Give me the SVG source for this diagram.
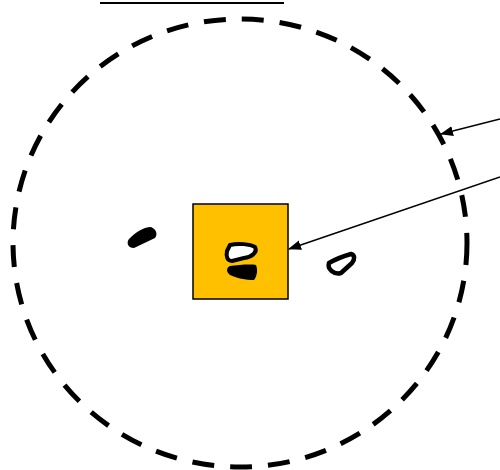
<svg xmlns="http://www.w3.org/2000/svg" width="500" height="470" viewBox="0 0 500 470">
<defs>
<marker id="ah" markerWidth="13" markerHeight="10" refX="12" refY="5" orient="auto" markerUnits="userSpaceOnUse">
<path d="M0,0 L13,5 L0,10 Z" fill="#000"/>
</marker>
</defs>
<style>
.conn{stroke:#000;stroke-width:1.5;fill:none;marker-end:url(#ah)}
</style>
<g id="topline"><line x1="100" y1="3" x2="284" y2="3" stroke="#000" stroke-width="2"/></g>
<g id="boundary"><ellipse cx="240" cy="243" rx="227" ry="224" fill="none" stroke="#000" stroke-width="5" stroke-dasharray="22,16"/></g>
<g id="box">
<rect x="193" y="204" width="95" height="95" fill="#FFC000" stroke="#000" stroke-width="1.5"/>
<path d="M230,245 C238,243 250,244 255,247 C258,252 252,257 244,258 L232,261 C227,261 226,256 227,251 Z" fill="#fff" stroke="#000" stroke-width="4" stroke-linejoin="round"/>
<path d="M230,266 C238,265 250,264 256,265 C258,270 257,276 254,280 C246,280 236,278 230,275 C226,272 226,268 230,266 Z" fill="#000"/>
</g>
<g id="blob-left"><path d="M129,239 C135,233 143,227 151,227 C156,229 158,234 155,238 L134,248 C128,248 126,243 129,239 Z" fill="#000"/></g>
<g id="blob-right"><path d="M329,263 C336,259 344,256 351,254 C355,255 355,259 352,263 L341,273 C334,275 327,269 329,263 Z" fill="none" stroke="#000" stroke-width="4.5" stroke-linejoin="round"/></g>
<g id="connectors">
<line class="conn" x1="500" y1="119" x2="441" y2="134"/>
<line class="conn" x1="500" y1="177" x2="289" y2="249"/>
</g>
</svg>
